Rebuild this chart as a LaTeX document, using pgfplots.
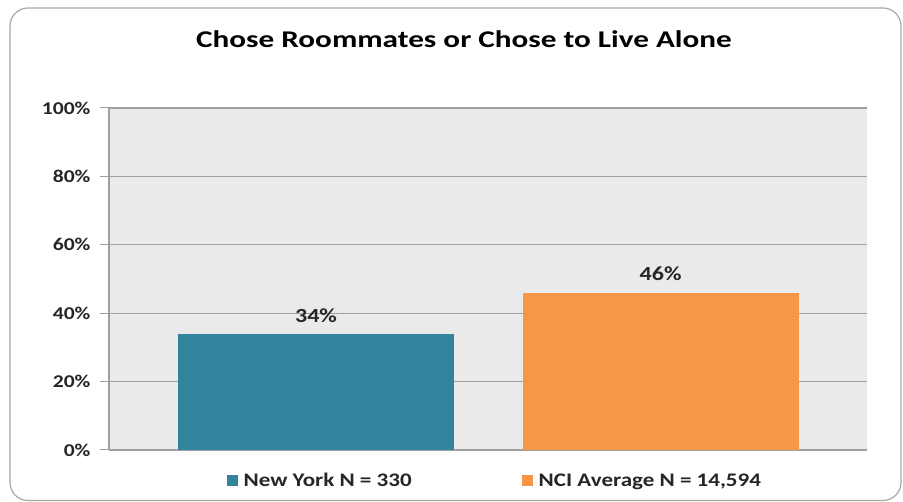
\documentclass[border=0pt]{standalone}
\usepackage{pgfplots}
\pgfplotsset{compat=1.18}
\usepackage{fontspec}
\setmainfont{Carlito}[FakeStretch=1.2]
\newfontfamily\titlefont{Carlito}[FakeStretch=1.3]
\definecolor{nyteal}{HTML}{31849B}
\definecolor{nciorange}{HTML}{F79646}
\definecolor{plotbg}{HTML}{EAEAEA}
\definecolor{gridgray}{HTML}{A0A0A0}
\definecolor{framegray}{HTML}{A8A8A8}
\begin{document}
\begin{tikzpicture}[x=1pt,y=1pt]
\useasboundingbox (0,0) rectangle (903,502);
\draw[framegray, line width=1.2pt, rounded corners=18pt] (10,1.5) rectangle (901,494);
\node[font=\titlefont\fontsize{24}{27}\selectfont\bfseries] at (464,463) {Chose Roommates or Chose to Live Alone};
\begin{axis}[
  at={(109pt,52pt)}, anchor=south west,
  scale only axis, width=758pt, height=342pt,
  xmin=-0.601, xmax=1.599, ymin=0, ymax=100,
  axis background/.style={fill=plotbg},
  axis lines*=left,
  axis line style={draw=gridgray, line width=1.3pt},
  xtick=\empty,
  ytick={0,20,40,60,80,100},
  yticklabel={\pgfmathprintnumber{\tick}\%},
  /pgf/number format/assume math mode=true,
  yticklabel style={font=\fontsize{18}{20}\selectfont\bfseries, color=black!85, xshift=-6pt},
  ymajorgrids,
  grid style={gridgray, line width=1.1pt},
  tick align=outside,
  major tick length=9pt,
  ytick style={gridgray, line width=1pt},
  nodes near coords={\pgfmathprintnumber{\pgfplotspointmeta}\%},
  every node near coord/.append style={font=\fontsize{20}{22}\selectfont\bfseries, color=black!85, yshift=8pt},
  legend columns=2,
  legend style={at={(0.509,-0.0906)}, anchor=center, draw=none, fill=none,
    font=\fontsize{19.2}{21}\selectfont\bfseries, text=black!85,
    /tikz/every even column/.append style={column sep=108pt}},
]
\addplot[ybar, bar width=0.801, bar shift=0, fill=nyteal, draw=none,
  legend image code/.code={\fill[nyteal] (0pt,-5.5pt) rectangle (11pt,5.5pt); \path (15pt,0pt);}]
  coordinates {(0,34)};
\addlegendentry{New York N = 330}
\addplot[ybar, bar width=0.801, bar shift=0, fill=nciorange, draw=none,
  legend image code/.code={\fill[nciorange] (0pt,-5.5pt) rectangle (11pt,5.5pt); \path (15pt,0pt);}]
  coordinates {(1,46)};
\addlegendentry{NCI Average N = 14,594}
\end{axis}
\end{tikzpicture}
\end{document}
